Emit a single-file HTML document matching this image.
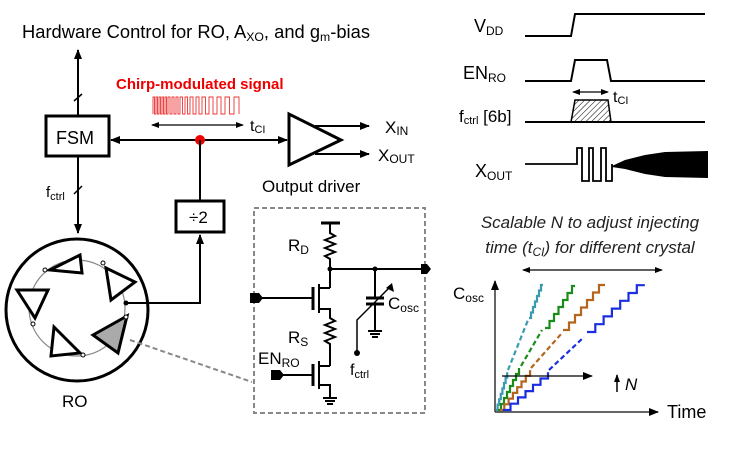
<!DOCTYPE html>
<html><head><meta charset="utf-8"><style>
html,body{margin:0;padding:0;background:#fff;}
svg{display:block;font-family:"Liberation Sans",Arial,sans-serif;}
</style></head><body>
<svg width="750" height="450" viewBox="0 0 750 450" xmlns="http://www.w3.org/2000/svg">
<defs>
<marker id="ah" markerWidth="10" markerHeight="8" refX="9" refY="4" orient="auto" markerUnits="userSpaceOnUse"><path d="M0,0 L10,4 L0,8 z" fill="#000"/></marker>
<marker id="ahs" markerWidth="8" markerHeight="6" refX="7" refY="3" orient="auto-start-reverse" markerUnits="userSpaceOnUse"><path d="M0,0 L8,3 L0,6 z" fill="#000"/></marker>
<pattern id="hatch" width="4" height="4" patternUnits="userSpaceOnUse" patternTransform="rotate(45)"><line x1="0" y1="0" x2="0" y2="4" stroke="#000" stroke-width="1"/></pattern>
</defs>

<!-- Title -->
<text x="22" y="38" font-size="18" textLength="348" lengthAdjust="spacingAndGlyphs">Hardware Control for RO, A<tspan font-size="12" dy="3">XO</tspan><tspan dy="-3">, and g</tspan><tspan font-size="12" dy="3">m</tspan><tspan dy="-3">-bias</tspan></text>

<!-- FSM -->
<line x1="78" y1="115" x2="78" y2="50" stroke="#000" stroke-width="2" marker-end="url(#ah)"/>
<line x1="74" y1="101" x2="82" y2="94" stroke="#000" stroke-width="1.5"/>
<rect x="46" y="116" width="63" height="40" fill="#fff" stroke="#000" stroke-width="3"/>
<text x="56" y="144" font-size="18">FSM</text>
<line x1="78" y1="157" x2="78" y2="233" stroke="#000" stroke-width="2" marker-end="url(#ah)"/>
<line x1="74" y1="194" x2="82" y2="186" stroke="#000" stroke-width="1.5"/>
<text x="46" y="197" font-size="15">f<tspan font-size="11" dy="3">ctrl</tspan></text>

<!-- main bus -->
<line x1="200" y1="140" x2="111" y2="140" stroke="#000" stroke-width="2" marker-end="url(#ah)"/>
<line x1="200" y1="140" x2="287" y2="140" stroke="#000" stroke-width="2" marker-end="url(#ah)"/>
<circle cx="200" cy="140" r="5" fill="#e00"/>
<text x="116" y="89" font-size="15" font-weight="bold" fill="#e00">Chirp-modulated signal</text>
<path d="M153,114 V97 h1.5 V114 h1.5 V97 h1.5 V114 h1.5 V97 h1.5 V114 h1.5 V97 h1.5 V114 h1.5 V97 h1.5 V114 h1.5 V97 h2 V114 h2 V97 h2 V114 h2 V97 h2 V114 h2 V97 h2.5 V114 h2.5 V97 h2.5 V114 h2.5 V97 h3 V114 h3 V97 h3 V114 h3 V97 h3.5 V114 h3.5 V97 h4 V114 h4 V97 h4 V114 h4 V97 h4.5 V114 h4.5 V97 h5 V114" fill="none" stroke="#e33" stroke-width="0.9"/>
<line x1="152" y1="125" x2="243" y2="125" stroke="#000" stroke-width="1.3" marker-start="url(#ahs)" marker-end="url(#ahs)"/>
<text x="250" y="131" font-size="16">t<tspan font-size="11" dy="2">CI</tspan></text>

<!-- output driver -->
<polygon points="289,114 289,165 341,140" fill="#fff" stroke="#000" stroke-width="3"/>
<line x1="315" y1="126" x2="369" y2="126" stroke="#000" stroke-width="2" marker-end="url(#ah)"/>
<line x1="315" y1="154" x2="369" y2="154" stroke="#000" stroke-width="2" marker-end="url(#ah)"/>
<text x="385" y="133" font-size="17">X<tspan font-size="12" dy="2">IN</tspan></text>
<text x="378" y="161" font-size="17">X<tspan font-size="12" dy="2">OUT</tspan></text>
<text x="262" y="192" font-size="17">Output driver</text>

<!-- div2 -->
<line x1="200" y1="140" x2="200" y2="201" stroke="#000" stroke-width="2"/>
<rect x="176" y="201" width="48" height="31" fill="#fff" stroke="#000" stroke-width="3"/>
<text x="189" y="223" font-size="17">÷2</text>
<polyline points="127,303 200,303 200,235" fill="none" stroke="#000" stroke-width="2" marker-end="url(#ah)"/>

<!-- RO -->
<circle cx="77" cy="310" r="71" fill="none" stroke="#000" stroke-width="3"/>
<circle cx="77" cy="308" r="48" fill="none" stroke="#888" stroke-width="1.2"/>
<polygon points="50,270 80,255 82,273" fill="#fff" stroke="#000" stroke-width="3"/>
<polygon points="106,268 135,282 111,300" fill="#fff" stroke="#000" stroke-width="3"/>
<polygon points="17,290 48,290 35,318" fill="#fff" stroke="#000" stroke-width="3"/>
<polygon points="51,356 54,327 80,353" fill="#fff" stroke="#000" stroke-width="3"/>
<polygon points="93,335 127,316 118,353" fill="#aaa" stroke="#000" stroke-width="3"/>
<g fill="#fff" stroke="#000" stroke-width="1">
<circle cx="45" cy="270" r="2"/><circle cx="103" cy="263" r="2"/><circle cx="126" cy="303" r="2"/><circle cx="126" cy="317" r="2"/><circle cx="33" cy="324" r="2"/><circle cx="83" cy="355" r="2"/>
</g>
<circle cx="126" cy="303" r="2" fill="#000"/>
<text x="62" y="407" font-size="17">RO</text>

<!-- dashed zoom -->
<line x1="130" y1="340" x2="252" y2="382" stroke="#888" stroke-width="2" stroke-dasharray="5,3"/>
<rect x="254" y="208" width="171" height="205" fill="none" stroke="#888" stroke-width="2" stroke-dasharray="5,3"/>

<!-- circuit -->
<g stroke="#000" stroke-width="2" fill="none">
<line x1="321" y1="223" x2="340" y2="223" stroke-width="3"/>
<polyline points="330,223 330,233 335,236 325,240 335,244 325,248 335,252 325,256 330,259 330,269 330,288"/>
<line x1="330" y1="269" x2="422" y2="269"/>
<line x1="313" y1="287" x2="313" y2="310" stroke-width="3"/>
<line x1="319" y1="284" x2="319" y2="313" stroke-width="2"/>
<polyline points="319,288 330,288"/>
<polyline points="319,309 330,309 330,318 335,321 325,325 335,329 325,333 335,337 325,341 330,344 330,366"/>
<line x1="258" y1="298" x2="313" y2="298"/>
<line x1="280" y1="375" x2="313" y2="375"/>
<line x1="313" y1="364" x2="313" y2="386" stroke-width="3"/>
<line x1="319" y1="361" x2="319" y2="389"/>
<polyline points="319,366 330,366"/>
<polyline points="319,385 330,385 330,398"/>
<line x1="323" y1="398" x2="337" y2="398"/><line x1="325" y1="401" x2="335" y2="401"/><line x1="327" y1="404" x2="333" y2="404"/>
<polyline points="375,269 375,298"/>
<line x1="366" y1="298" x2="384" y2="298" stroke-width="3"/>
<line x1="366" y1="304" x2="384" y2="304" stroke-width="3"/>
<polyline points="375,304 375,331"/>
<line x1="368" y1="331" x2="382" y2="331"/><line x1="370" y1="334" x2="380" y2="334"/><line x1="372" y1="337" x2="378" y2="337"/>
<polyline points="357,352 357,320 392,285" stroke-width="1.5"/>
</g>
<path d="M392,283 L394,292 L386,288 z" fill="#000"/>
<path d="M250,293 h9 l4,5 l-4,5 h-9z" fill="#000"/>
<path d="M271,370 h9 l4,5 l-4,5 h-9z" fill="#000"/>
<path d="M421,264 h6 l4,5 l-4,5 h-6z" fill="#000"/>
<circle cx="330" cy="269" r="2.5" fill="#000"/>
<circle cx="375" cy="269" r="2.5" fill="#000"/>
<circle cx="357" cy="353" r="3" fill="#000"/>
<text x="288" y="251" font-size="17">R<tspan font-size="12" dy="3">D</tspan></text>
<text x="288" y="343" font-size="17">R<tspan font-size="12" dy="3">S</tspan></text>
<text x="258" y="364" font-size="17">EN<tspan font-size="12" dy="3">RO</tspan></text>
<text x="388" y="309" font-size="17">C<tspan font-size="12" dy="3">osc</tspan></text>
<text x="350" y="375" font-size="16">f<tspan font-size="11" dy="3">ctrl</tspan></text>

<!-- timing -->
<text x="474" y="32" font-size="18">V<tspan font-size="12" dy="3">DD</tspan></text>
<polyline points="525,36 571,36 575,14 705,14" fill="none" stroke="#000" stroke-width="2"/>
<text x="463" y="79" font-size="18">EN<tspan font-size="12" dy="3">RO</tspan></text>
<polyline points="525,81 571,81 575,60 607,60 611,81 705,81" fill="none" stroke="#000" stroke-width="2"/>
<text x="459" y="122" font-size="17">f<tspan font-size="11" dy="2">ctrl</tspan><tspan dy="-2"> [6b]</tspan></text>
<polygon points="571,122 575,100 608,100 611,122" fill="url(#hatch)" stroke="#000" stroke-width="1.5"/>
<line x1="525" y1="122" x2="705" y2="122" stroke="#000" stroke-width="2"/>
<line x1="573" y1="92" x2="608" y2="92" stroke="#000" stroke-width="1.3" marker-start="url(#ahs)" marker-end="url(#ahs)"/>
<text x="613" y="102" font-size="16">t<tspan font-size="11" dy="2">CI</tspan></text>
<text x="475" y="177" font-size="18">X<tspan font-size="12" dy="3">OUT</tspan></text>
<polyline points="525,164 577,164 577,148 582,148 582,181 589,181 589,148 593,148 593,181 601,181 601,148 606,148 606,181 612,181 612,164" fill="none" stroke="#000" stroke-width="1.8"/>
<polygon points="612,166 625,160 645,155 665,152 708,151 708,178 665,177 645,174 625,169 612,167" fill="#000"/>

<!-- chart -->
<text x="590" y="228" font-size="17" font-style="italic" text-anchor="middle" fill="#222">Scalable N to adjust injecting</text>
<text x="590" y="253" font-size="17" font-style="italic" text-anchor="middle" fill="#222">time (t<tspan font-size="12" dy="3">CI</tspan><tspan dy="-3">) for different crystal</tspan></text>
<line x1="523" y1="270" x2="662" y2="270" stroke="#000" stroke-width="1.3" marker-start="url(#ahs)" marker-end="url(#ahs)"/>
<line x1="495" y1="412" x2="495" y2="281" stroke="#333" stroke-width="1.5" marker-end="url(#ah)"/>
<line x1="495" y1="412" x2="658" y2="412" stroke="#333" stroke-width="1.5" marker-end="url(#ah)"/>
<text x="453" y="299" font-size="17">C<tspan font-size="12" dy="3">osc</tspan></text>
<text x="667" y="418" font-size="18">Time</text>

<g fill="none" stroke-width="2.2">
<path d="M496,410 h1.6v-5.4h1.6v-5.4h1.6v-5.4h1.6v-5.4h1.6v-5.4h1.6v-5.4h1.6v-5.4" stroke="#3a9ab0"/>
<line x1="508" y1="370" x2="528" y2="320" stroke="#3a9ab0" stroke-dasharray="5,3"/>
<path d="M529,318 h2v-5.5h2v-5.5h2v-5.5h2v-5.5h2v-5.5h2v-5.5h2" stroke="#3a9ab0"/>
<path d="M498,410 h3v-6h3v-6h3v-6h3v-6h3v-6h3v-6h3v-6" stroke="#1a8c1a"/>
<line x1="521" y1="366" x2="542" y2="330" stroke="#1a8c1a" stroke-dasharray="5,3"/>
<path d="M545,328 h4.5v-7h4.5v-7h4.5v-7h4.5v-7h4.5v-7h4.5v-7h3" stroke="#1a8c1a"/>
<path d="M500,410 h4.3v-5.7h4.3v-5.7h4.3v-5.7h4.3v-5.7h4.3v-5.7h4.3v-5.7h4.3v-5.7" stroke="#b5651d"/>
<line x1="531" y1="368" x2="562" y2="333" stroke="#b5651d" stroke-dasharray="5,3"/>
<path d="M563,330 h6v-7.5h6v-7.5h6v-7.5h6v-7.5h6v-7.5h6v-7.5h6" stroke="#b5651d"/>
<path d="M503,410 h7.5v-6.3h7.5v-6.3h7.5v-6.3h7.5v-6.3h7.5v-6.3h7.5v-6.3" stroke="#1a2ee0"/>
<line x1="549" y1="370" x2="584" y2="337" stroke="#1a2ee0" stroke-dasharray="5,3"/>
<path d="M587,332 h8.3v-7.8h8.3v-7.8h8.3v-7.8h8.3v-7.8h8.3v-7.8h8.3v-7.8h8" stroke="#1a2ee0"/>
</g>
<line x1="502" y1="376" x2="592" y2="376" stroke="#000" stroke-width="1.3" marker-end="url(#ah)"/>
<line x1="617" y1="392" x2="617" y2="375" stroke="#000" stroke-width="1.5" marker-end="url(#ahs)"/>
<text x="625" y="390" font-size="17" font-style="italic">N</text>
</svg>
</body></html>
